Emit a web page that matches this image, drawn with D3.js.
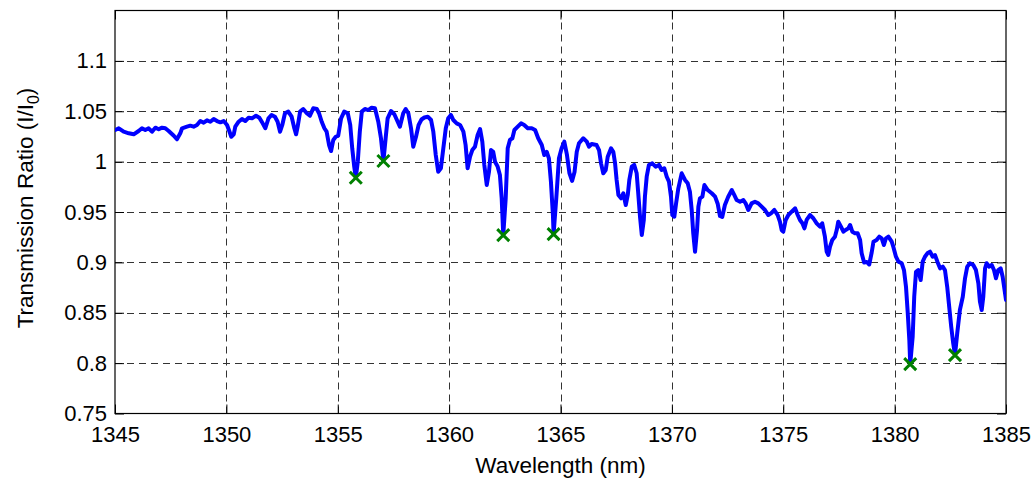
<!DOCTYPE html>
<html>
<head>
<meta charset="utf-8">
<script src="https://cdn.jsdelivr.net/npm/d3@7"></script>
<style>
  html, body { margin: 0; padding: 0; background: #fff; }
  svg { display: block; }
  text { font-family: "Liberation Sans", Arial, sans-serif; fill: #000; }
</style>
</head>
<body>
<svg id="chart" width="1034" height="478"></svg>
<script>
// Measured transmission spectrum (I/I0) versus wavelength in nm
const wavelength = [
  1345.01,1345.17,1345.39,1345.62,1345.84,1346.06,1346.21,1346.36,1346.51,1346.66,1346.81,1346.96,1347.11,1347.26,1347.41,1347.64,1347.78,1347.93,1348.01,1348.23,1348.38,1348.53,1348.68,1348.83,1348.98,1349.13,1349.28,1349.43,1349.58,1349.73,1349.88,1350.03,1350.13,1350.22,1350.33,1350.40,1350.55,1350.70,1350.85,1351.00,1351.15,1351.33,1351.48,1351.63,1351.75,1351.89,1352.03,
  1352.18,1352.30,1352.41,1352.51,1352.63,1352.78,1352.93,1353.05,1353.13,1353.20,1353.31,1353.45,1353.61,1353.75,1353.90,1354.06,1354.16,1354.28,1354.40,1354.50,1354.61,1354.70,1354.80,1354.91,1355.02,1355.15,1355.29,1355.45,1355.56,1355.65,1355.74,1355.81,1355.90,1355.99,1356.08,1356.22,1356.37,1356.52,1356.67,1356.82,1356.94,1357.05,1357.15,1357.24,1357.39,1357.54,1357.69,1357.79,1357.94,1358.05,1358.17,1358.29,1358.39,
  1358.51,1358.63,1358.76,1358.89,1359.04,1359.19,1359.29,1359.40,1359.51,1359.63,1359.74,1359.85,1359.96,1360.08,1360.19,1360.34,1360.49,1360.64,1360.74,1360.83,1360.94,1361.04,1361.16,1361.28,1361.39,1361.49,1361.58,1361.69,1361.79,1361.88,1361.98,1362.06,1362.18,1362.28,1362.36,1362.43,1362.54,1362.63,1362.73,1362.84,1362.93,1363.08,1363.23,1363.37,1363.53,1363.71,1363.86,1364.00,1364.16,1364.27,1364.38,1364.48,1364.57,1364.66,1364.69,1364.81,1364.93,1365.05,1365.17,
  1365.29,1365.40,1365.52,1365.63,1365.73,1365.83,1366.02,1366.18,1366.28,1366.40,1366.62,1366.73,1366.82,1366.92,1367.03,1367.12,1367.27,1367.37,1367.45,1367.52,1367.60,1367.72,1367.82,1367.93,1368.02,1368.09,1368.20,1368.31,1368.42,1368.49,1368.57,1368.65,1368.74,1368.79,1368.87,1368.97,1369.12,1369.27,1369.42,1369.54,1369.66,1369.77,1369.87,1369.96,1370.02,1370.11,1370.19,1370.29,1370.44,1370.59,1370.71,1370.81,1370.89,1370.96,1371.04,1371.13,1371.19,1371.26,1371.37,1371.46,1371.61,1371.79,1371.94,
  1372.06,1372.16,1372.26,1372.38,1372.53,1372.69,1372.80,1372.91,1373.06,1373.21,1373.31,1373.43,1373.58,1373.73,1373.88,1374.03,1374.18,1374.33,1374.45,1374.60,1374.75,1374.85,1374.93,1375.00,1375.11,1375.23,1375.38,1375.53,1375.65,1375.75,1375.86,1375.95,1376.05,1376.20,1376.35,1376.50,1376.65,1376.75,1376.87,1376.95,1377.02,1377.10,1377.20,1377.32,1377.40,1377.47,1377.59,1377.70,1377.80,1377.92,1378.00,1378.10,1378.22,1378.34,1378.45,1378.52,1378.63,1378.75,1378.86,1378.97,1379.05,1379.19,1379.31,1379.42,1379.52,1379.61,1379.72,1379.87,1379.94,
  1380.06,1380.17,1380.32,1380.42,1380.51,1380.59,1380.66,1380.70,1380.81,1380.88,1380.96,1381.06,1381.17,1381.26,1381.36,1381.47,1381.59,1381.71,1381.81,1381.92,1382.04,1382.16,1382.26,1382.36,1382.45,1382.54,1382.63,1382.71,1382.81,1382.93,1383.06,1383.16,1383.26,1383.38,1383.53,1383.65,1383.76,1383.83,1383.91,1383.98,1384.06,1384.13,1384.25,1384.36,1384.46,1384.55,1384.65,1384.76,1384.85,1385.00
];

const transmission = [
  1.0314,1.0331,1.0297,1.0281,1.0271,1.0304,1.0331,1.0314,1.0331,1.0297,1.0337,1.0321,1.0337,1.0331,1.0304,1.0257,1.0222,1.0281,1.0331,1.0347,1.0357,1.0347,1.0364,1.0403,1.0386,1.0410,1.0396,1.0423,1.0403,1.0390,1.0403,1.0364,1.0304,1.0247,1.0271,1.0347,1.0396,1.0423,1.0403,1.0436,1.0430,1.0456,1.0436,1.0380,1.0331,1.0430,1.0463,
  1.0446,1.0396,1.0297,1.0364,1.0480,1.0496,1.0446,1.0331,1.0271,1.0347,1.0496,1.0522,1.0480,1.0456,1.0529,1.0522,1.0480,1.0396,1.0331,1.0297,1.0165,1.0105,1.0215,1.0247,1.0257,1.0430,1.0496,1.0480,1.0364,1.0132,0.9950,0.9840,0.9999,1.0297,1.0496,1.0522,1.0512,1.0535,1.0529,1.0396,1.0232,1.0006,1.0232,1.0430,1.0502,1.0470,1.0396,1.0347,1.0480,1.0522,1.0480,1.0331,1.0148,
  1.0244,1.0364,1.0418,1.0438,1.0446,1.0413,1.0297,1.0066,0.9900,0.9934,1.0132,1.0331,1.0430,1.0463,1.0413,1.0380,1.0364,1.0297,1.0165,0.9934,1.0049,1.0115,1.0148,1.0264,1.0324,1.0198,0.9967,0.9768,0.9900,1.0115,1.0098,0.9999,0.9950,0.9867,0.9636,0.9270,0.9636,1.0132,1.0215,1.0232,1.0314,1.0347,1.0380,1.0364,1.0331,1.0331,1.0314,1.0232,1.0165,1.0066,1.0098,1.0033,0.9801,0.9470,0.9280,0.9636,1.0033,1.0132,1.0198,
  1.0066,0.9887,0.9808,0.9897,1.0098,1.0182,1.0232,1.0198,1.0148,1.0175,1.0165,1.0115,0.9983,0.9884,0.9917,1.0049,1.0132,1.0098,0.9983,0.9818,0.9669,0.9636,0.9686,0.9569,0.9669,0.9818,0.9950,0.9967,0.9884,0.9686,0.9453,0.9272,0.9421,0.9652,0.9850,0.9967,0.9983,0.9950,0.9967,0.9917,0.9934,0.9850,0.9801,0.9652,0.9470,0.9453,0.9586,0.9735,0.9884,0.9818,0.9785,0.9702,0.9520,0.9289,0.9106,0.9321,0.9553,0.9636,0.9652,0.9768,0.9718,0.9686,0.9652,
  0.9579,0.9460,0.9450,0.9569,0.9652,0.9718,0.9669,0.9619,0.9602,0.9619,0.9586,0.9520,0.9586,0.9602,0.9586,0.9553,0.9520,0.9470,0.9487,0.9520,0.9470,0.9404,0.9321,0.9304,0.9421,0.9470,0.9503,0.9537,0.9470,0.9421,0.9388,0.9338,0.9421,0.9470,0.9438,0.9388,0.9354,0.9388,0.9255,0.9106,0.9073,0.9156,0.9222,0.9255,0.9321,0.9404,0.9354,0.9304,0.9321,0.9338,0.9371,0.9304,0.9289,0.9289,0.9222,0.9090,0.8999,0.9004,0.8979,0.9098,0.9205,0.9222,0.9255,0.9239,0.9172,0.9239,0.9255,0.9205,0.9156,
  0.9056,0.9007,0.8991,0.8924,0.8759,0.8495,0.8230,0.7990,0.8262,0.8659,0.8907,0.8924,0.8825,0.9007,0.9056,0.9090,0.9106,0.9056,0.9073,0.9007,0.8941,0.8957,0.8924,0.8759,0.8560,0.8362,0.8197,0.8080,0.8296,0.8527,0.8659,0.8842,0.8957,0.8991,0.8974,0.8924,0.8792,0.8610,0.8527,0.8659,0.8941,0.8991,0.8957,0.8974,0.8924,0.8842,0.8924,0.8941,0.8858,0.8627
];

// Absorption dips picked out with markers
const dipWavelength   = [1355.81, 1357.05, 1362.43, 1364.69, 1380.70, 1382.71];
const dipTransmission = [0.9840, 1.0006, 0.9270, 0.9280, 0.7990, 0.8080];

// Axis ticks
const xTicks = [1345, 1350, 1355, 1360, 1365, 1370, 1375, 1380, 1385];
const yTicks = [0.75, 0.8, 0.85, 0.9, 0.95, 1, 1.05, 1.1];
const xDomain = [1345, 1385];
const yDomain = [0.75, 1.15];

const svg = d3.select("#chart");
const plot = { left: 115, right: 1006, top: 10.5, bottom: 413.5 };
const W = plot.right - plot.left, H = plot.bottom - plot.top;

const x = d3.scaleLinear().domain(xDomain).range([plot.left, plot.right]);
const y = d3.scaleLinear().domain(yDomain).range([plot.bottom, plot.top]);

const fmtY = d => String(+d.toFixed(2));

// dashed grid
const grid = svg.append("g").attr("stroke", "#333").attr("stroke-width", 1)
  .attr("stroke-dasharray", "7,5").attr("fill", "none");
grid.selectAll("line.gx").data(xTicks.filter(t => t > xDomain[0] && t < xDomain[1])).join("line")
  .attr("class", "gx")
  .attr("x1", d => Math.round(x(d)) + 0.5).attr("x2", d => Math.round(x(d)) + 0.5)
  .attr("y1", plot.bottom).attr("y2", plot.top);
grid.selectAll("line.gy").data(yTicks.filter(t => t > yDomain[0])).join("line")
  .attr("class", "gy")
  .attr("y1", d => Math.round(y(d)) + 0.5).attr("y2", d => Math.round(y(d)) + 0.5)
  .attr("x1", plot.left).attr("x2", plot.right);

// axes with inward ticks
const tickLen = 9;
function styleAxis(g) {
  g.select(".domain").remove();
  g.selectAll(".tick line").attr("stroke", "#000").attr("stroke-width", 1);
  g.selectAll(".tick text").attr("font-size", 22).attr("fill", "#000")
    .attr("font-family", "'Liberation Sans', Arial, sans-serif");
}
svg.append("g").attr("transform", `translate(0,${plot.bottom})`)
  .call(d3.axisBottom(x).tickValues(xTicks).tickFormat(d3.format("d"))
    .tickSizeInner(-tickLen).tickSizeOuter(0).tickPadding(13))
  .call(styleAxis);
svg.append("g").attr("transform", `translate(0,${plot.top})`)
  .call(d3.axisTop(x).tickValues(xTicks).tickFormat("")
    .tickSizeInner(-tickLen).tickSizeOuter(0))
  .call(styleAxis);
svg.append("g").attr("transform", `translate(${plot.left},0)`)
  .call(d3.axisLeft(y).tickValues(yTicks).tickFormat(fmtY)
    .tickSizeInner(-tickLen).tickSizeOuter(0).tickPadding(8))
  .call(styleAxis);
svg.append("g").attr("transform", `translate(${plot.right},0)`)
  .call(d3.axisRight(y).tickValues(yTicks).tickFormat("")
    .tickSizeInner(-tickLen).tickSizeOuter(0))
  .call(styleAxis);

// plot frame
svg.append("rect")
  .attr("x", plot.left).attr("y", plot.top).attr("width", W).attr("height", H)
  .attr("fill", "none").attr("stroke", "#000").attr("stroke-width", 1.2);

// spectrum trace
const n = Math.min(wavelength.length, transmission.length);
const series = d3.range(n).map(i => [wavelength[i], transmission[i]]);
svg.append("defs").append("clipPath").attr("id", "plotClip")
  .append("rect").attr("x", plot.left).attr("y", plot.top).attr("width", W).attr("height", H);
svg.append("path")
  .datum(series)
  .attr("clip-path", "url(#plotClip)")
  .attr("fill", "none")
  .attr("stroke", "#0000ff")
  .attr("stroke-width", 4)
  .attr("stroke-linejoin", "round")
  .attr("stroke-linecap", "round")
  .attr("d", d3.line().x(d => x(d[0])).y(d => y(d[1])));

// dip markers (x-shaped)
const ms = 6;
const dips = d3.range(dipWavelength.length).map(i => [dipWavelength[i], dipTransmission[i]]);
svg.append("g").selectAll("path").data(dips).join("path")
  .attr("transform", d => `translate(${x(d[0])},${y(d[1])})`)
  .attr("d", `M${-ms},${-ms}L${ms},${ms}M${-ms},${ms}L${ms},${-ms}`)
  .attr("stroke", "#008000").attr("stroke-width", 3).attr("fill", "none");

// axis titles
svg.append("text")
  .attr("x", (plot.left + plot.right) / 2).attr("y", 473)
  .attr("text-anchor", "middle").attr("font-size", 22.5)
  .text("Wavelength (nm)");

const yl = svg.append("text")
  .attr("transform", `translate(33,${(plot.top + plot.bottom) / 2 - 4}) rotate(-90)`)
  .attr("text-anchor", "middle").attr("font-size", 22.5);
yl.append("tspan").text("Transmission Ratio (I/I");
yl.append("tspan").attr("font-size", 16).attr("dy", 6).text("0");
yl.append("tspan").attr("dy", -6).text(")");
</script>
</body>
</html>
